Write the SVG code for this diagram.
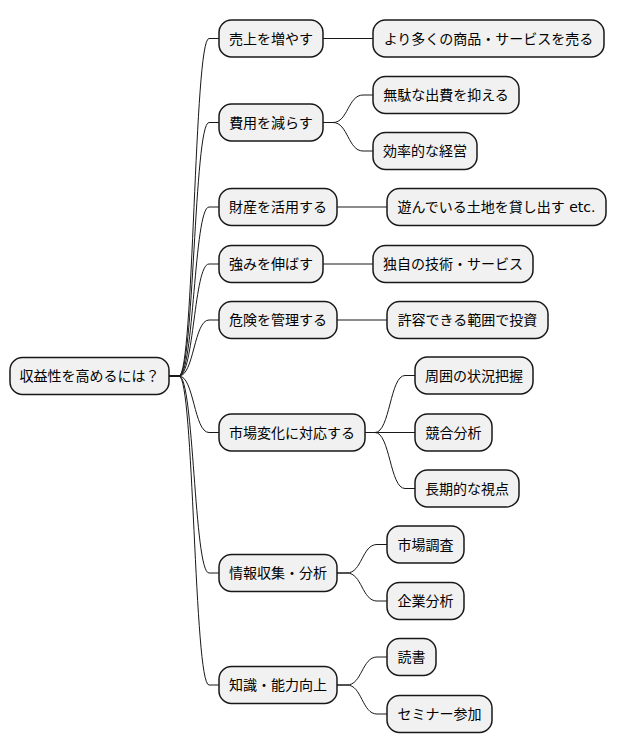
<svg xmlns="http://www.w3.org/2000/svg" width="617" height="752" viewBox="0 0 617 752">
<style>
.n rect{fill:#F1F1F1;stroke:#181818;stroke-width:1.5}
.n text{font-family:"DejaVu Sans","Noto Sans CJK JP",sans-serif;font-size:14px;fill:#000}
.c path{fill:none;stroke:#181818;stroke-width:1}
</style>
<rect width="617" height="752" fill="#FFFFFF"/>
<g class="c" id="connectors">
<path d="M169,376 H179 C194,376 194,38.5 209,38.5 H219"/>
<path d="M169,376 H179 C194,376 194,122.5 209,122.5 H219"/>
<path d="M169,376 H179 C194,376 194,207 209,207 H219"/>
<path d="M169,376 H179 C194,376 194,264 209,264 H219"/>
<path d="M169,376 H179 C194,376 194,320 209,320 H219"/>
<path d="M169,376 H179 C194,376 194,432.5 209,432.5 H219"/>
<path d="M169,376 H179 C194,376 194,573 209,573 H219"/>
<path d="M169,376 H179 C194,376 194,685 209,685 H219"/>
<path d="M323,38.5 H373"/>
<path d="M323,122.5 H333 C348,122.5 348,95 363,95 H373"/>
<path d="M323,122.5 H333 C348,122.5 348,151 363,151 H373"/>
<path d="M337,207 H387"/>
<path d="M323,264 H373"/>
<path d="M337,320 H387"/>
<path d="M365,432.5 H375 C390,432.5 390,375.5 405,375.5 H415"/>
<path d="M365,432.5 H415"/>
<path d="M365,432.5 H375 C390,432.5 390,488.5 405,488.5 H415"/>
<path d="M337,573 H347 C362,573 362,544.5 377,544.5 H387"/>
<path d="M337,573 H347 C362,573 362,601 377,601 H387"/>
<path d="M337,685 H347 C362,685 362,657 377,657 H387"/>
<path d="M337,685 H347 C362,685 362,714 377,714 H387"/>
</g>
<g class="n" id="root"><rect x="10" y="357.5" width="159" height="37" rx="12.5"/><text x="89.5" y="381" text-anchor="middle">収益性を高めるには？</text></g>
<g class="n" id="n1"><rect x="219" y="20" width="104" height="37" rx="12.5"/><text x="271" y="43.5" text-anchor="middle">売上を増やす</text></g>
<g class="n" id="n2"><rect x="219" y="104" width="104" height="37" rx="12.5"/><text x="271" y="127.5" text-anchor="middle">費用を減らす</text></g>
<g class="n" id="n3"><rect x="219" y="188.5" width="118" height="37" rx="12.5"/><text x="278" y="212" text-anchor="middle">財産を活用する</text></g>
<g class="n" id="n4"><rect x="219" y="245.5" width="104" height="37" rx="12.5"/><text x="271" y="269" text-anchor="middle">強みを伸ばす</text></g>
<g class="n" id="n5"><rect x="219" y="301.5" width="118" height="37" rx="12.5"/><text x="278" y="325" text-anchor="middle">危険を管理する</text></g>
<g class="n" id="n6"><rect x="219" y="414" width="146" height="37" rx="12.5"/><text x="292" y="437.5" text-anchor="middle">市場変化に対応する</text></g>
<g class="n" id="n7"><rect x="219" y="554.5" width="118" height="37" rx="12.5"/><text x="278" y="578" text-anchor="middle">情報収集・分析</text></g>
<g class="n" id="n8"><rect x="219" y="666.5" width="118" height="37" rx="12.5"/><text x="278" y="690" text-anchor="middle">知識・能力向上</text></g>
<g class="n" id="n1a"><rect x="373" y="20" width="231" height="37" rx="12.5"/><text x="488.5" y="43.5" text-anchor="middle">より多くの商品・サービスを売る</text></g>
<g class="n" id="n2a"><rect x="373" y="76.5" width="146" height="37" rx="12.5"/><text x="446" y="100" text-anchor="middle">無駄な出費を抑える</text></g>
<g class="n" id="n2b"><rect x="373" y="132.5" width="104" height="37" rx="12.5"/><text x="425" y="156" text-anchor="middle">効率的な経営</text></g>
<g class="n" id="n3a"><rect x="387" y="188.5" width="219" height="37" rx="12.5"/><text x="496.5" y="212" text-anchor="middle">遊んでいる土地を貸し出す etc.</text></g>
<g class="n" id="n4a"><rect x="373" y="245.5" width="160" height="37" rx="12.5"/><text x="453" y="269" text-anchor="middle">独自の技術・サービス</text></g>
<g class="n" id="n5a"><rect x="387" y="301.5" width="161" height="37" rx="12.5"/><text x="467.5" y="325" text-anchor="middle">許容できる範囲で投資</text></g>
<g class="n" id="n6a"><rect x="415" y="357" width="118" height="37" rx="12.5"/><text x="474" y="380.5" text-anchor="middle">周囲の状況把握</text></g>
<g class="n" id="n6b"><rect x="415" y="414" width="77" height="37" rx="12.5"/><text x="453.5" y="437.5" text-anchor="middle">競合分析</text></g>
<g class="n" id="n6c"><rect x="415" y="470" width="104" height="37" rx="12.5"/><text x="467" y="493.5" text-anchor="middle">長期的な視点</text></g>
<g class="n" id="n7a"><rect x="387" y="526" width="77" height="37" rx="12.5"/><text x="425.5" y="549.5" text-anchor="middle">市場調査</text></g>
<g class="n" id="n7b"><rect x="387" y="582.5" width="77" height="37" rx="12.5"/><text x="425.5" y="606" text-anchor="middle">企業分析</text></g>
<g class="n" id="n8a"><rect x="387" y="638.5" width="49" height="37" rx="12.5"/><text x="411.5" y="662" text-anchor="middle">読書</text></g>
<g class="n" id="n8b"><rect x="387" y="695.5" width="105" height="37" rx="12.5"/><text x="439.5" y="719" text-anchor="middle">セミナー参加</text></g>
</svg>
